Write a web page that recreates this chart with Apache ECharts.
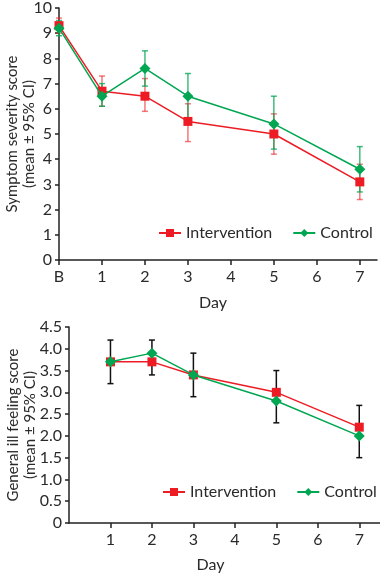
<!DOCTYPE html>
<html><head><meta charset="utf-8">
<script src="https://cdn.jsdelivr.net/npm/echarts@6/dist/echarts.min.js"></script>
<style>html,body{margin:0;padding:0;background:#fff}#c{width:380px;height:576px}</style>
</head><body><div id="c"></div><script>
// Top chart: symptom severity score
const symDays = [0, 1, 2, 3, 5, 7];
const dayLabelsTop = ['B', '1', '2', '3', '4', '5', '6', '7'];
const symIntervention = [9.3, 6.7, 6.5, 5.5, 5.0, 3.1];
const symIntLow = [9.0, 6.1, 5.9, 4.7, 4.2, 2.4];
const symIntHigh = [9.6, 7.3, 7.2, 6.2, 5.8, 3.8];
const symControl = [9.2, 6.5, 7.6, 6.5, 5.4, 3.6];
const symCtlLow = [8.9, 6.1, 6.9, 5.6, 4.4, 2.7];
const symCtlHigh = [9.5, 7.0, 8.3, 7.4, 6.5, 4.5];
// Bottom chart: general ill feeling score
const illDays = [1, 2, 3, 5, 7];
const illIntervention = [3.7, 3.7, 3.4, 3.0, 2.2];
const illControl = [3.7, 3.9, 3.4, 2.8, 2.0];
const illLow = [3.2, 3.4, 2.9, 2.3, 1.5];
const illHigh = [4.2, 4.2, 3.9, 3.5, 2.7];
const topTicks = [0, 1, 2, 3, 4, 5, 6, 7];
const bottomTicks = [1, 2, 3, 4, 5, 6, 7];

const RED = '#ed1c24', GREEN = '#00a651';
const FONT = 'Lato';
const TXT = '#2a2a2a';

function pairs(xs, ys) { return xs.map((x, i) => [x, ys[i]]); }
function triples(xs, lo, hi) { return xs.map((x, i) => [x, lo[i], hi[i]]); }

function errRender(color, cap) {
  return function (params, api) {
    const x = api.value(0), lo = api.value(1), hi = api.value(2);
    const p1 = api.coord([x, lo]), p2 = api.coord([x, hi]);
    const style = { stroke: color, lineWidth: 1.5 };
    return { type: 'group', children: [
      { type: 'line', shape: { x1: p1[0], y1: p1[1], x2: p2[0], y2: p2[1] }, style },
      { type: 'line', shape: { x1: p1[0] - cap, y1: p1[1], x2: p1[0] + cap, y2: p1[1] }, style },
      { type: 'line', shape: { x1: p2[0] - cap, y1: p2[1], x2: p2[0] + cap, y2: p2[1] }, style }
    ]};
  };
}

const axisLine = { show: true, lineStyle: { color: '#222', width: 1.5 } };
const axisTick = { show: true, length: 5, lineStyle: { color: '#222', width: 1.5 } };
const labelStyle = { color: TXT, fontFamily: FONT, fontSize: 16 };
const legendText = { color: TXT, fontFamily: FONT, fontSize: 16 };

const chart = echarts.init(document.getElementById('c'), null, { renderer: 'canvas' });
chart.setOption({
  animation: false,
  backgroundColor: '#fff',
  textStyle: { fontFamily: FONT },
  grid: [
    { left: 59, top: 8, width: 318, height: 252, outerBoundsMode: 'none' },
    { left: 69, top: 327, width: 311, height: 196, outerBoundsMode: 'none' }
  ],
  legend: [
    { orient: 'horizontal', left: 153, top: 220, width: 240, itemWidth: 22, itemHeight: 10, itemGap: 20,
      textStyle: legendText, data: ['Intervention', 'Control'] },
    { orient: 'horizontal', left: 157, top: 479, width: 240, itemWidth: 22, itemHeight: 10, itemGap: 20,
      textStyle: legendText, data: ['Intervention', 'Control'] }
  ],
  xAxis: [
    { gridIndex: 0, type: 'value', min: 0, max: 7.4, interval: 1,
      splitLine: { show: false }, axisLine, 
      axisTick: Object.assign({ customValues: topTicks }, axisTick),
      axisLabel: Object.assign({ margin: 9, customValues: topTicks,
        formatter: v => dayLabelsTop[v] }, labelStyle),
      name: 'Day', nameLocation: 'middle', nameGap: 35, nameMoveOverlap: false,
      nameTextStyle: { color: TXT, fontFamily: FONT, fontSize: 16, padding: [0, 10, 0, 0] } },
    { gridIndex: 1, type: 'value', min: 0, max: 7.5, interval: 1,
      splitLine: { show: false }, axisLine,
      axisTick: Object.assign({ customValues: bottomTicks }, axisTick),
      axisLabel: Object.assign({ margin: 9, customValues: bottomTicks,
        formatter: v => String(v) }, labelStyle),
      name: 'Day', nameLocation: 'middle', nameGap: 34, nameMoveOverlap: false,
      nameTextStyle: { color: TXT, fontFamily: FONT, fontSize: 16, padding: [0, 28, 0, 0] } }
  ],
  yAxis: [
    { gridIndex: 0, type: 'value', min: 0, max: 10, interval: 1,
      splitLine: { show: false }, axisLine, axisTick: Object.assign({}, axisTick, { length: 4 }),
      axisLabel: Object.assign({ margin: 7 }, labelStyle),
      name: 'Symptom severity score\n(mean ± 95% CI)', nameLocation: 'middle', nameRotate: 90, nameGap: 21,
      nameMoveOverlap: false,
      nameTextStyle: { color: TXT, fontFamily: FONT, fontSize: 15, lineHeight: 17 } },
    { gridIndex: 1, type: 'value', min: 0, max: 4.5, interval: 0.5,
      splitLine: { show: false }, axisLine, axisTick: Object.assign({}, axisTick, { length: 4 }),
      axisLabel: Object.assign({ margin: 7, formatter: v => v === 0 ? '0' : v.toFixed(1) }, labelStyle),
      name: 'General ill feeling score\n(mean ± 95% CI)', nameLocation: 'middle', nameRotate: 90, nameGap: 30,
      nameMoveOverlap: false,
      nameTextStyle: { color: TXT, fontFamily: FONT, fontSize: 15, lineHeight: 17 } }
  ],
  series: [
    { type: 'custom', xAxisIndex: 0, yAxisIndex: 0, z: 1, silent: true,
      renderItem: errRender('rgba(237,28,36,0.6)', 3), encode: { x: 0, y: [1, 2] },
      data: triples(symDays, symIntLow, symIntHigh) },
    { type: 'custom', xAxisIndex: 0, yAxisIndex: 0, z: 1, silent: true,
      renderItem: errRender('rgba(0,166,81,0.75)', 3), encode: { x: 0, y: [1, 2] },
      data: triples(symDays, symCtlLow, symCtlHigh) },
    { name: 'Intervention', type: 'line', xAxisIndex: 0, yAxisIndex: 0, z: 3,
      symbol: 'rect', symbolSize: 9, color: RED, lineStyle: { width: 1.5, color: RED },
      itemStyle: { color: RED }, data: pairs(symDays, symIntervention) },
    { name: 'Control', type: 'line', xAxisIndex: 0, yAxisIndex: 0, z: 4,
      symbol: 'diamond', symbolSize: 11, color: GREEN, lineStyle: { width: 1.5, color: GREEN },
      itemStyle: { color: GREEN }, data: pairs(symDays, symControl) },

    { type: 'custom', xAxisIndex: 1, yAxisIndex: 1, z: 1, silent: true,
      renderItem: errRender('#111', 3), encode: { x: 0, y: [1, 2] },
      data: triples(illDays, illLow, illHigh) },
    { name: 'Intervention', type: 'line', xAxisIndex: 1, yAxisIndex: 1, z: 3,
      symbol: 'rect', symbolSize: 9, color: RED, lineStyle: { width: 1.5, color: RED },
      itemStyle: { color: RED }, data: pairs(illDays, illIntervention) },
    { name: 'Control', type: 'line', xAxisIndex: 1, yAxisIndex: 1, z: 4,
      symbol: 'diamond', symbolSize: 11, color: GREEN, lineStyle: { width: 1.5, color: GREEN },
      itemStyle: { color: GREEN }, data: pairs(illDays, illControl) }
  ]
});
</script></body></html>
